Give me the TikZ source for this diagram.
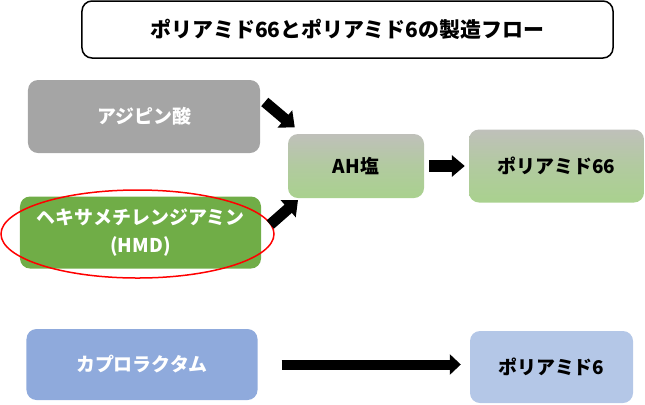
\documentclass[tikz,border=0pt]{standalone}
\usepackage{fontspec}
\setmainfont{Noto Sans CJK JP}
\usetikzlibrary{positioning,arrows.meta,shapes.geometric}

\definecolor{adipgray}{HTML}{A5A5A5}
\definecolor{hmdgreen}{HTML}{70AD47}
\definecolor{caprblue}{HTML}{8FAADC}
\definecolor{pasixblue}{HTML}{B4C7E7}
\definecolor{salttop}{HTML}{BFC0BA}
\definecolor{saltbot}{HTML}{A9D18E}

\begin{document}
\begin{tikzpicture}[x=1bp,y=-1bp]
      \tikzset{
        node distance=200.5bp,
        box/.style={rounded corners=10bp,inner sep=0pt,align=center,font=\fontsize{19}{28}\selectfont\bfseries},
        salt/.style={box,top color=salttop,bottom color=saltbot,middle color=saltbot!60!salttop},
        fat/.style={line width=11bp,-{Triangle[length=13bp,width=22bp]}}
      }

      \useasboundingbox (0,0) rectangle (645,404);

      \node[box,draw,line width=1.5bp,minimum width=531bp,minimum height=57bp,font=\fontsize{21}{25}\selectfont\bfseries] (title) at (347.5,29.5) {ポリアミド66とポリアミド6の製造フロー};

      \node[box,fill=adipgray,text=white,minimum width=232bp,minimum height=73bp] (adip) at (144,116.5) {アジピン酸};
      \node[box,fill=hmdgreen,text=white,minimum width=241bp,minimum height=72bp] (hmd) at (140.5,232.5) {ヘキサメチレンジアミン\\(HMD)};
      \node[box,fill=caprblue,text=white,minimum width=231bp,minimum height=71bp] (capro) at (142,364.5) {カプロラクタム};
      \node[salt,minimum width=136bp,minimum height=64bp] (ah) at (356,166) {AH塩};
      \node[salt,minimum width=175bp,minimum height=73bp,right of=ah] (pa66) {ポリアミド66};
      \node[box,fill=pasixblue,minimum width=163bp,minimum height=72bp] (pa6) at (551.5,367) {ポリアミド6};

      \node[ellipse,draw=red,line width=1.5bp,inner sep=0pt,minimum width=273bp,minimum height=88bp] (ring) at (137.5,234) {};

      \draw[fat,shorten <=6bp,shorten >=10bp] (adip.9) -- (ah.149);
      \draw[fat,shorten <=12bp,shorten >=3bp] (hmd.east) -- (ah.210);
      \draw[fat,line width=12bp,-{Triangle[length=13bp,width=21bp]},shorten <=5bp,shorten >=4bp] (ah) -- (pa66);
      \draw[fat,line width=10bp,-{Triangle[length=11bp,width=20bp]},shorten <=24bp,shorten >=9bp] (capro.east) -- (capro.east -| pa6.west);
    \end{tikzpicture}
\end{document}
